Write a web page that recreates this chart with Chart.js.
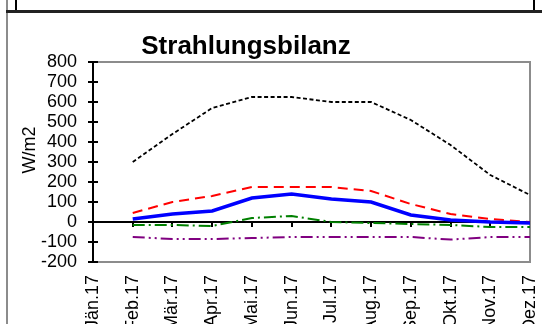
<!DOCTYPE html>
<html>
<head>
<meta charset="utf-8">
<script src="https://cdn.jsdelivr.net/npm/chart.js@4"></script>
<style>
    html, body { margin: 0; padding: 0; background: #fff; }
    #wrap { position: relative; width: 542px; height: 324px; overflow: hidden; }
    #wrap canvas { position: absolute; left: 0; top: 0; }
    .frame-left { position: absolute; left: 6px; top: 0; width: 2px; height: 324px; background: #8c8c8c; }
    .frame-box { position: absolute; left: 15px; top: -2px; width: 516px; height: 10px; border: 2px solid #000; border-bottom: none; }
    .frame-bar { position: absolute; left: 6px; top: 10px; width: 536px; height: 3px; background: #222; }
</style>
</head>
<body>
<div id="wrap">
    <canvas id="radChart" width="542" height="324"></canvas>
    <div class="frame-left"></div>
    <div class="frame-box"></div>
    <div class="frame-bar"></div>
</div>
<script>
// ======================
// DATA
// ======================
const months = ["Jän.17", "Feb.17", "Mär.17", "Apr.17", "Mai.17", "Jun.17",
                "Jul.17", "Aug.17", "Sep.17", "Okt.17", "Nov.17", "Dez.17"];

const globalstrahlung = [null, 300, 440, 570, 625, 625, 600, 600, 510, 385, 235, 135];
const kurzwelligBilanz = [null, 45, 100, 130, 175, 175, 175, 155, 90, 40, 15, 0];
const strahlungsbilanz = [null, 15, 40, 55, 120, 140, 115, 100, 35, 10, 0, -5];
const differenz = [null, -15, -15, -20, 20, 30, 0, -5, -10, -15, -25, -25];
const langwelligBilanz = [null, -75, -85, -85, -80, -75, -75, -75, -75, -88, -75, -75];

const yTicks = { min: -200, max: 800, step: 100 };

const FONT = "'Liberation Sans', Arial, sans-serif";

// ======================
// SMALL PLUGIN: titles, plot frame, inner tick marks
// ======================
const excelFrame = {
    id: "excelFrame",
    beforeDatasetsDraw(chart) {
        const { ctx, chartArea } = chart;
        const yScale = chart.scales.y;
        ctx.save();
        ctx.strokeStyle = "#8c8c8c";
        ctx.lineWidth = 2;
        ctx.beginPath();
        ctx.moveTo(chartArea.left, chartArea.top);
        ctx.lineTo(chartArea.right, chartArea.top);
        ctx.lineTo(chartArea.right, chartArea.bottom);
        ctx.stroke();

        // y ticks cross the axis, like in Excel
        ctx.strokeStyle = "#000";
        ctx.beginPath();
        yScale.ticks.forEach(function (t) {
            const py = Math.round(yScale.getPixelForValue(t.value));
            ctx.moveTo(chartArea.left, py);
            ctx.lineTo(chartArea.left + 5, py);
        });
        ctx.stroke();
        ctx.restore();
    },
    afterDraw(chart) {
        const ctx = chart.ctx;
        ctx.save();
        ctx.fillStyle = "#000";
        ctx.textAlign = "center";
        ctx.textBaseline = "alphabetic";
        ctx.font = "bold 26px " + FONT;
        ctx.fillText("Strahlungsbilanz", 246, 54);

        ctx.translate(30, 150);
        ctx.rotate(-Math.PI / 2);
        ctx.textBaseline = "middle";
        ctx.font = "18px " + FONT;
        ctx.fillText("W/m2", 0, 0);
        ctx.restore();
    }
};

const font18 = { family: FONT, size: 18 };

new Chart(document.getElementById("radChart"), {
    type: "line",
    data: {
        labels: months,
        datasets: [
            {
                label: "Strahlungsbilanz",
                data: strahlungsbilanz,
                borderColor: "#0000ff",
                borderWidth: 3.5
            },
            {
                label: "Globalstrahlung",
                data: globalstrahlung,
                borderColor: "#000000",
                borderWidth: 1.8,
                borderDash: [4, 2.5]
            },
            {
                label: "Kurzwellige Bilanz",
                data: kurzwelligBilanz,
                borderColor: "#ff0000",
                borderWidth: 2,
                borderDash: [10, 6]
            },
            {
                label: "Differenz",
                data: differenz,
                borderColor: "#008000",
                borderWidth: 2,
                borderDash: [12, 4, 2, 4]
            },
            {
                label: "Langwellige Bilanz",
                data: langwelligBilanz,
                borderColor: "#800080",
                borderWidth: 2,
                borderDash: [12, 4, 2, 4, 2, 4]
            }
        ]
    },
    options: {
        responsive: false,
        animation: false,
        layout: { padding: { left: 0, right: 12, top: 62, bottom: 0 } },
        elements: {
            point: { radius: 0 },
            line: { tension: 0, fill: false }
        },
        plugins: {
            legend: { display: false },
            title: { display: false },
            tooltip: { enabled: false }
        },
        scales: {
            x: {
                offset: false,
                grid: { drawOnChartArea: false, drawTicks: false },
                border: { color: "#8c8c8c", width: 2 },
                ticks: {
                    color: "#000",
                    font: font18,
                    minRotation: 90,
                    maxRotation: 90,
                    autoSkip: false,
                    padding: 13
                },
                afterFit(scale) {
                    scale.height = 62;
                    scale.paddingLeft = 0;
                    scale.paddingRight = 0;
                }
            },
            x0: {
                type: "category",
                labels: months,
                offset: false,
                position: { y: 0 },
                grid: { drawOnChartArea: false, tickLength: 4, color: "#000", lineWidth: 2 },
                border: { color: "#000", width: 2 },
                ticks: { display: false }
            },
            y: {
                min: yTicks.min,
                max: yTicks.max,
                grid: { drawOnChartArea: false, tickLength: 5, color: "#000", lineWidth: 2 },
                border: { color: "#000", width: 2 },
                ticks: {
                    stepSize: yTicks.step,
                    autoSkip: false,
                    color: "#000",
                    font: font18,
                    padding: 11
                },
                afterFit(scale) {
                    scale.width = 93;
                    scale.paddingTop = 0;
                    scale.paddingBottom = 0;
                }
            }
        }
    },
    plugins: [excelFrame]
});
</script>
</body>
</html>
